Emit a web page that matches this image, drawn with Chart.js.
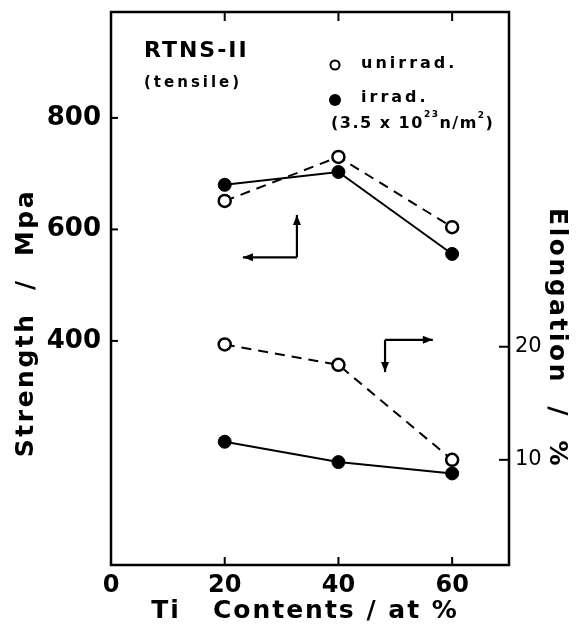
<!DOCTYPE html>
<html>
<head>
<meta charset="utf-8">
<script src="https://cdn.jsdelivr.net/npm/chart.js@4.4.1/dist/chart.umd.min.js"></script>
<style>
  html, body { margin: 0; padding: 0; background: #fff; }
  #wrap { width: 580px; height: 642px; }
</style>
</head>
<body>
<div id="wrap"><canvas id="c" width="580" height="642"></canvas></div>
<script>
// ---- data ----
const tiContent = [20, 40, 60];                 // Ti content, at%
const strengthUnirrad = [651, 730, 604];        // MPa (open circles, dashed)
const strengthIrrad   = [680, 703, 556];        // MPa (filled circles, solid)
const elongUnirrad    = [20.2, 18.4, 10.0];     // % (open circles, dashed)
const elongIrrad      = [11.6, 9.8, 8.8];       // % (filled circles, solid)
const xTickValues        = [0, 20, 40, 60];
const strengthTickValues = [400, 600, 800];
const elongTickValues    = [10, 20];

const pts = (ys) => tiContent.map((x, i) => ({ x: x, y: ys[i] }));
const FONT = 'DejaVu Sans';

const openStyle = {
  borderColor: '#000', borderWidth: 2, borderDash: [10, 7],
  pointRadius: 6, pointBorderWidth: 2.5, pointBackgroundColor: '#fff',
  pointBorderColor: '#000', pointHoverRadius: 6, fill: false, tension: 0
};
const filledStyle = {
  borderColor: '#000', borderWidth: 2, borderDash: [],
  pointRadius: 6.5, pointBorderWidth: 1, pointBackgroundColor: '#000',
  pointBorderColor: '#000', pointHoverRadius: 6.5, fill: false, tension: 0
};

const noPad = s => { s.paddingTop = 0; s.paddingBottom = 0; s.paddingLeft = 0; s.paddingRight = 0; };

const decor = {
  id: 'decor',
  afterDraw(chart) {
    const ctx = chart.ctx;
    const a = chart.chartArea;
    const sx = chart.scales.x, sy = chart.scales.y, sy2 = chart.scales.y2;
    const spacing = v => { if ('letterSpacing' in ctx) ctx.letterSpacing = v; };
    ctx.save();
    ctx.strokeStyle = '#000'; ctx.fillStyle = '#000';
    // frame
    ctx.lineWidth = 2.5;
    ctx.strokeRect(a.left, a.top, a.right - a.left, a.bottom - a.top);
    // inward ticks
    ctx.lineWidth = 2;
    xTickValues.forEach(v => {
      if (v === 0) return;
      const px = sx.getPixelForValue(v);
      ctx.beginPath(); ctx.moveTo(px, a.bottom); ctx.lineTo(px, a.bottom - 8); ctx.stroke();
      ctx.beginPath(); ctx.moveTo(px, a.top); ctx.lineTo(px, a.top + 9); ctx.stroke();
    });
    strengthTickValues.forEach(v => {
      const py = sy.getPixelForValue(v);
      ctx.beginPath(); ctx.moveTo(a.left, py); ctx.lineTo(a.left + 7, py); ctx.stroke();
    });
    elongTickValues.forEach(v => {
      const py = sy2.getPixelForValue(v);
      ctx.beginPath(); ctx.moveTo(a.right, py); ctx.lineTo(a.right - 10, py); ctx.stroke();
    });

    // arrows (in data coordinates)
    function arrowHead(x1, y1, x2, y2) {
      const ang = Math.atan2(y2 - y1, x2 - x1);
      const L = 10, W = 4;
      ctx.beginPath();
      ctx.moveTo(x2, y2);
      ctx.lineTo(x2 - L * Math.cos(ang) + W * Math.sin(ang), y2 - L * Math.sin(ang) - W * Math.cos(ang));
      ctx.lineTo(x2 - L * Math.cos(ang) - W * Math.sin(ang), y2 - L * Math.sin(ang) + W * Math.cos(ang));
      ctx.closePath(); ctx.fill();
    }
    function elbow(cx, cy, hx, vy, scaleY) {
      const X = sx.getPixelForValue(cx), Y = scaleY.getPixelForValue(cy);
      const HX = sx.getPixelForValue(hx), VY = scaleY.getPixelForValue(vy);
      ctx.lineWidth = 2.2;
      ctx.beginPath(); ctx.moveTo(X, Y); ctx.lineTo(HX, Y); ctx.stroke();
      ctx.beginPath(); ctx.moveTo(X, Y); ctx.lineTo(X, VY); ctx.stroke();
      arrowHead(X, Y, HX, Y);
      arrowHead(X, Y, X, VY);
    }
    elbow(32.7, 550, 23.2, 626, sy);   // points to left axis
    elbow(48.2, 402, 56.6, 344, sy);   // points to right axis

    // axis titles
    ctx.textBaseline = 'middle'; ctx.textAlign = 'center';
    ctx.font = 'bold 25px ' + FONT;
    spacing('2.5px');
    ctx.save(); ctx.translate(26, 323); ctx.rotate(-Math.PI / 2);
    ctx.fillText('Strength  /  Mpa', 0, 0); ctx.restore();
    ctx.save(); ctx.translate(556, 338); ctx.rotate(Math.PI / 2);
    ctx.fillText('Elongation  /  %', 0, 0); ctx.restore();
    spacing('2px');
    ctx.fillText('Ti   Contents / at %', 305, 611);

    // labels inside plot
    ctx.textAlign = 'left';
    spacing('2px');
    ctx.font = 'bold 22px ' + FONT;
    ctx.fillText('RTNS-II', 144, 51);
    spacing('3px');
    ctx.font = 'bold 15px ' + FONT;
    ctx.fillText('(tensile)', 144, 83);
    ctx.font = 'bold 16px ' + FONT;
    ctx.fillText('unirrad.', 361, 64);
    ctx.fillText('irrad.', 361, 98);
    // legend markers
    ctx.lineWidth = 2;
    ctx.beginPath(); ctx.arc(335, 65, 4.5, 0, Math.PI * 2); ctx.stroke();
    ctx.beginPath(); ctx.arc(335, 100, 6, 0, Math.PI * 2); ctx.fill();
    // fluence with superscripts
    spacing('1.5px');
    let x = 331; const yb = 124;
    const part = (t, f, dy) => { ctx.font = f; ctx.fillText(t, x, yb + dy); x += ctx.measureText(t).width; };
    part('(3.5 x 10', 'bold 16px ' + FONT, 0);
    part('23', 'bold 9px ' + FONT, -9);
    part('n/m', 'bold 16px ' + FONT, 0);
    part('2', 'bold 9px ' + FONT, -8);
    part(')', 'bold 16px ' + FONT, 0);
    ctx.restore();
  }
};

new Chart(document.getElementById('c'), {
  type: 'line',
  data: {
    datasets: [
      Object.assign({ label: 'Strength unirrad.', data: pts(strengthUnirrad), yAxisID: 'y' }, openStyle),
      Object.assign({ label: 'Strength irrad.', data: pts(strengthIrrad), yAxisID: 'y' }, filledStyle),
      Object.assign({ label: 'Elongation unirrad.', data: pts(elongUnirrad), yAxisID: 'y2' }, openStyle),
      Object.assign({ label: 'Elongation irrad.', data: pts(elongIrrad), yAxisID: 'y2' }, filledStyle)
    ]
  },
  options: {
    responsive: false,
    animation: false,
    layout: { padding: { top: 12, left: 0, right: 0, bottom: 0 } },
    plugins: { legend: { display: false }, tooltip: { enabled: false }, title: { display: false } },
    scales: {
      x: {
        type: 'linear', min: 0, max: 70,
        grid: { display: false, drawTicks: false },
        border: { display: false },
        afterBuildTicks: s => { s.ticks = xTickValues.map(v => ({ value: v })); },
        afterFit: s => { s.height = 77; noPad(s); },
        ticks: { color: '#000', font: { family: FONT, size: 24, weight: 'bold' }, padding: 6, maxRotation: 0 }
      },
      y: {
        type: 'linear', position: 'left', min: -2, max: 990,
        grid: { display: false, drawTicks: false },
        border: { display: false },
        afterBuildTicks: s => { s.ticks = strengthTickValues.map(v => ({ value: v })); },
        afterFit: s => { s.width = 111; noPad(s); },
        ticks: { color: '#000', font: { family: FONT, size: 26, weight: 'bold' }, padding: 10 }
      },
      y2: {
        type: 'linear', position: 'right', min: 0.7, max: 49.6,
        grid: { display: false, drawTicks: false },
        border: { display: false },
        afterBuildTicks: s => { s.ticks = elongTickValues.map(v => ({ value: v })); },
        afterFit: s => { s.width = 71; noPad(s); },
        ticks: { color: '#000', font: { family: FONT, size: 21 }, padding: 6 }
      }
    }
  },
  plugins: [decor]
});
</script>
</body>
</html>
